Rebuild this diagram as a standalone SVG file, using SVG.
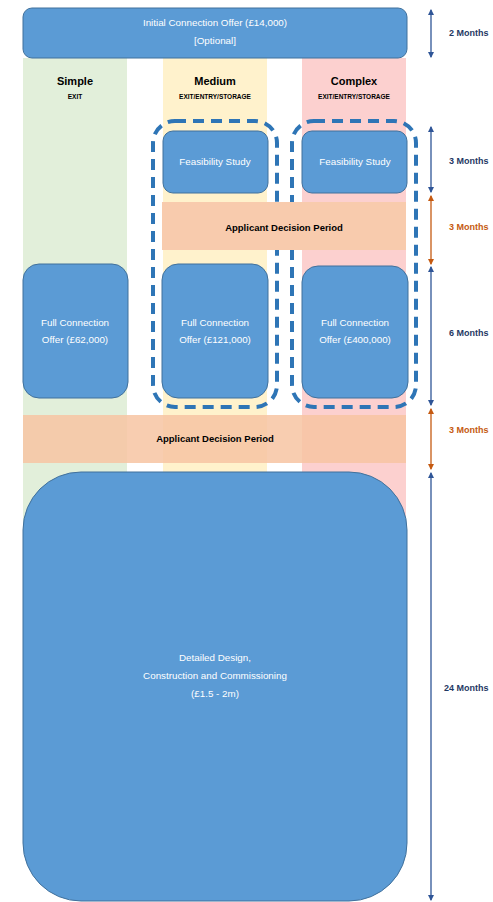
<svg xmlns="http://www.w3.org/2000/svg" width="493" height="902" viewBox="0 0 493 902">
<defs>
<style>
.box{fill:#5B9BD5;stroke:#41719C;stroke-width:1}
.wt{fill:#fff;font-family:"Liberation Sans",Arial,sans-serif;font-size:9.8px;text-anchor:middle}
.hd{fill:#000;font-family:"Liberation Sans",Arial,sans-serif;font-weight:bold;text-anchor:middle}
.band{fill:#F7C4A2;opacity:0.85}
.dash{fill:none;stroke:#2E75B6;stroke-width:4;stroke-dasharray:11 7}
.blue{stroke:#2F5597;stroke-width:1.3}
.org{stroke:#C55A11;stroke-width:1.3}
.lb{font-family:"Liberation Sans",Arial,sans-serif;font-size:9px;font-weight:bold}
</style>
<marker id="ab" viewBox="0 0 6 6" refX="5" refY="3" markerWidth="5" markerHeight="5" orient="auto-start-reverse"><path d="M0,0 L6,3 L0,6 Z" fill="#2F5597"/></marker>
<marker id="ao" viewBox="0 0 6 6" refX="5" refY="3" markerWidth="5" markerHeight="5" orient="auto-start-reverse"><path d="M0,0 L6,3 L0,6 Z" fill="#C55A11"/></marker>
</defs>
<rect width="493" height="902" fill="#fff"/>
<g id="columns">
<rect x="23" y="58" width="104" height="772" fill="#E2EFDA"/>
<rect x="163" y="58" width="104" height="772" fill="#FFF2CC"/>
<rect x="302" y="58" width="104" height="772" fill="#FCD0CF"/>
</g>
<g id="initial">
<rect class="box" x="23" y="8" width="384" height="50" rx="9"/>
<text class="wt" x="215" y="26">Initial Connection Offer (£14,000)</text>
<text class="wt" x="215" y="44">[Optional]</text>
</g>
<g id="hdr-simple"><text class="hd" x="75" y="85" font-size="11">Simple</text><text class="hd" x="75" y="99" font-size="6.5">EXIT</text></g>
<g id="hdr-medium"><text class="hd" x="215" y="85" font-size="11">Medium</text><text class="hd" x="215" y="99" font-size="6.5">EXIT/ENTRY/STORAGE</text></g>
<g id="hdr-complex"><text class="hd" x="354" y="85" font-size="11">Complex</text><text class="hd" x="354" y="99" font-size="6.5">EXIT/ENTRY/STORAGE</text></g>
<g id="group-medium"><rect class="dash" x="153" y="121" width="124" height="286" rx="22"/></g>
<g id="group-complex"><rect class="dash" x="292" y="121" width="124" height="286" rx="22"/></g>
<g id="feas-medium"><rect class="box" x="163" y="131" width="105" height="62" rx="10"/><text class="wt" x="215" y="165">Feasibility Study</text></g>
<g id="feas-complex"><rect class="box" x="302" y="131" width="105" height="62" rx="10"/><text class="wt" x="355" y="165">Feasibility Study</text></g>
<g id="decision1">
<rect x="162" y="202" width="244" height="48" fill="#F8CBAD"/>
<text class="hd" x="284" y="231" font-size="9.5">Applicant Decision Period</text>
</g>
<g id="full-simple"><rect class="box" x="23" y="264" width="105" height="134" rx="16"/><text class="wt" x="75" y="326">Full Connection</text><text class="wt" x="75" y="343">Offer (£62,000)</text></g>
<g id="full-medium"><rect class="box" x="162" y="264" width="106" height="134" rx="16"/><text class="wt" x="215" y="326">Full Connection</text><text class="wt" x="215" y="343">Offer (£121,000)</text></g>
<g id="full-complex"><rect class="box" x="302" y="266" width="106" height="132" rx="16"/><text class="wt" x="355" y="326">Full Connection</text><text class="wt" x="355" y="343">Offer (£400,000)</text></g>
<g id="decision2">
<rect class="band" x="23" y="415" width="383" height="48"/>
<text class="hd" x="215" y="442" font-size="9.5">Applicant Decision Period</text>
</g>
<g id="detailed">
<rect class="box" x="23" y="472" width="384" height="429" rx="58"/>
<text class="wt" x="215" y="661">Detailed Design,</text>
<text class="wt" x="215" y="679">Construction and Commissioning</text>
<text class="wt" x="215" y="697">(£1.5 - 2m)</text>
</g>
<g id="connectors">
<line class="blue" x1="431" y1="10" x2="431" y2="57" marker-start="url(#ab)" marker-end="url(#ab)"/>
<line class="blue" x1="431" y1="127" x2="431" y2="192" marker-start="url(#ab)" marker-end="url(#ab)"/>
<line class="org" x1="431" y1="196" x2="431" y2="264" marker-start="url(#ao)" marker-end="url(#ao)"/>
<line class="blue" x1="431" y1="267" x2="431" y2="405" marker-start="url(#ab)" marker-end="url(#ab)"/>
<line class="org" x1="431" y1="409" x2="431" y2="469" marker-start="url(#ao)" marker-end="url(#ao)"/>
<line class="blue" x1="431" y1="473" x2="431" y2="900" marker-start="url(#ab)" marker-end="url(#ab)"/>
</g>
<g id="labels">
<text class="lb" x="449" y="36" fill="#1F3864">2 Months</text>
<text class="lb" x="449" y="164" fill="#1F3864">3 Months</text>
<text class="lb" x="449" y="230" fill="#C55A11">3 Months</text>
<text class="lb" x="449" y="336" fill="#1F3864">6 Months</text>
<text class="lb" x="449" y="433" fill="#C55A11">3 Months</text>
<text class="lb" x="444" y="691" fill="#1F3864">24 Months</text>
</g>
</svg>
